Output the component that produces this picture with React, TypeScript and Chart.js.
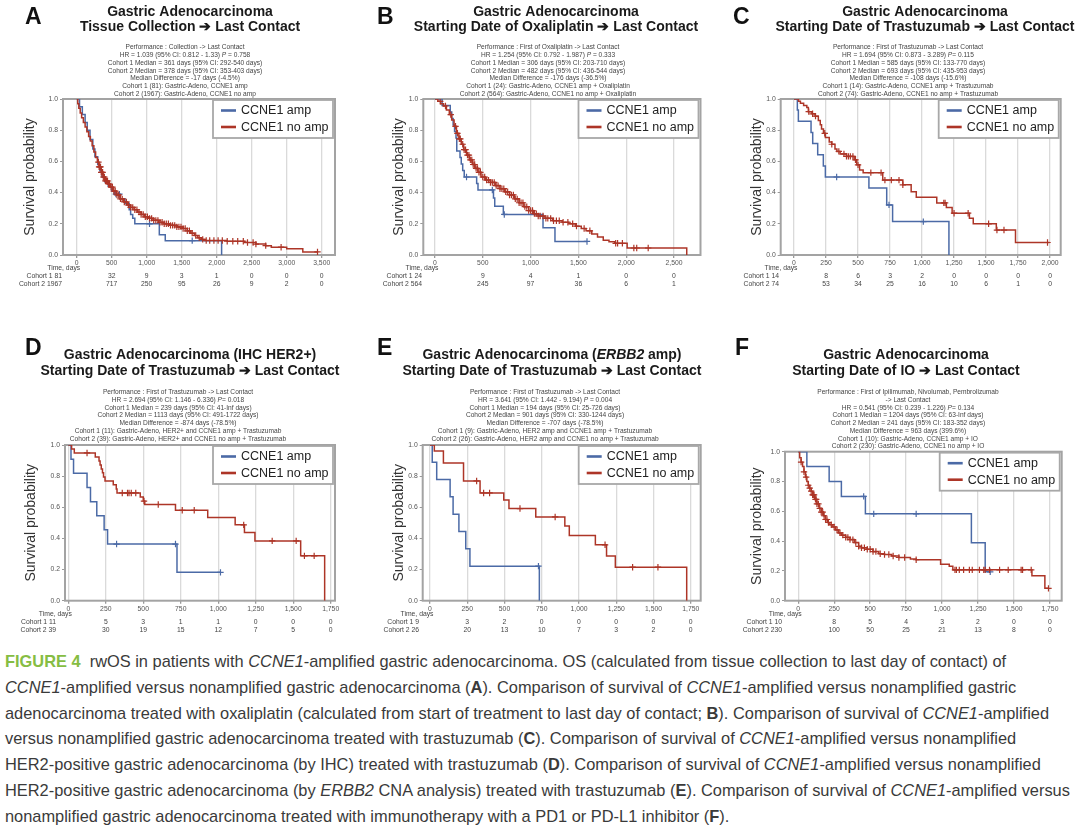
import React, { useEffect, useRef } from "react";
import { Chart, registerables } from "chart.js";
Chart.register(...registerables);

type Pt = [number, number];
const FONT = '"Liberation Sans", Arial, sans-serif';
const BLUE = "#4b6aa6";
const RED = "#ad3527";
const Y_TICKS = [0, 0.2, 0.4, 0.6, 0.8, 1.0];
const ARROW = "\u2794";

// ---------------- Panel A ----------------
const ticksA = [0, 500, 1000, 1500, 2000, 2500, 3000, 3500];
const ampA: Pt[] = [[0,1],[40,0.95],[80,0.9],[120,0.85],[150,0.8],[190,0.74],[230,0.68],[260,0.63],[300,0.58],[330,0.54],[361,0.5],[400,0.47],[450,0.44],[500,0.41],[540,0.39],[620,0.36],[690,0.33],[750,0.29],[770,0.26],[800,0.235],[830,0.2],[1180,0.13],[1265,0.092],[2070,0]];
const ampCensorA = [560, 610, 1040, 1650];
const ampEndA = 2070;
const noampA: Pt[] = [[0,1],[15,0.97],[30,0.94],[50,0.91],[70,0.88],[95,0.85],[120,0.82],[145,0.79],[170,0.76],[195,0.73],[220,0.7],[245,0.66],[270,0.625],[295,0.595],[320,0.565],[350,0.53],[378,0.5],[410,0.475],[445,0.455],[480,0.435],[520,0.41],[570,0.385],[620,0.36],[670,0.34],[720,0.32],[770,0.305],[820,0.29],[870,0.275],[920,0.26],[970,0.245],[1020,0.235],[1090,0.222],[1170,0.21],[1250,0.2],[1330,0.19],[1430,0.18],[1520,0.17],[1580,0.155],[1630,0.14],[1680,0.125],[1730,0.11],[1780,0.1],[1830,0.093],[2150,0.088],[2400,0.08],[2560,0.07],[2700,0.06],[2780,0.05],[3000,0.04],[3230,0.02]];
const noampCensorA = [310,320,330,340,350,360,370,380,395,410,425,440,455,470,490,510,530,550,575,600,625,650,680,710,740,770,800,830,860,890,920,950,980,1010,1040,1070,1100,1130,1160,1190,1220,1250,1280,1310,1340,1370,1400,1430,1460,1490,1520,1550,1580,1610,1650,1700,1750,1800,1850,1900,1960,2020,2080,2150,2230,2300,2380,2440,2520,2560,2700,2920,3440];
const noampEndA = 3450;
const riskAmpA = [81, 32, 9, 3, 1, 0, 0, 0];
const riskNoampA = [1967, 717, 250, 95, 26, 9, 2, 0];
const titleA = ["Gastric Adenocarcinoma", `Tissue Collection ${ARROW} Last Contact`];
const statsA = [
  "Performance : Collection -> Last Contact",
  "HR = 1.039 (95% CI: 0.812 - 1.33) _P_ = 0.758",
  "Cohort 1 Median = 361 days (95% CI: 292-540 days)",
  "Cohort 2 Median = 378 days (95% CI: 353-403 days)",
  "Median Difference = -17 days (-4.5%)",
  "Cohort 1 (81): Gastric-Adeno, CCNE1 amp",
  "Cohort 2 (1967): Gastric-Adeno, CCNE1 no amp",
];

// ---------------- Panel B ----------------
const ticksB = [0, 500, 1000, 1500, 2000, 2500];
const ampB: Pt[] = [[0,1],[75,0.958],[160,0.917],[175,0.875],[190,0.833],[205,0.792],[220,0.75],[228,0.667],[262,0.625],[275,0.583],[290,0.542],[306,0.5],[436,0.458],[450,0.417],[612,0.365],[625,0.313],[715,0.26],[1130,0.174],[1255,0.087]];
const ampCensorB = [330, 600, 725, 1590];
const ampEndB = 1590;
const noampB: Pt[] = [[0,1],[30,0.985],[60,0.97],[90,0.955],[120,0.93],[150,0.9],[175,0.865],[200,0.825],[225,0.78],[250,0.745],[275,0.71],[300,0.675],[330,0.64],[360,0.61],[390,0.58],[420,0.555],[450,0.53],[482,0.5],[530,0.48],[580,0.465],[630,0.445],[680,0.425],[730,0.405],[780,0.385],[830,0.36],[880,0.335],[930,0.31],[980,0.285],[1030,0.265],[1080,0.25],[1150,0.235],[1230,0.22],[1330,0.21],[1400,0.2],[1470,0.185],[1530,0.17],[1580,0.155],[1640,0.135],[1700,0.115],[1760,0.095],[1820,0.085],[1880,0.075],[2010,0.045],[2633,0]];
const noampCensorB = [55,110,165,215,235,255,265,290,305,320,340,355,370,385,400,415,430,445,460,475,500,520,540,560,580,600,620,640,660,680,700,720,740,760,780,800,820,840,860,880,900,920,940,960,980,1000,1020,1040,1060,1080,1100,1130,1160,1180,1210,1240,1270,1300,1340,1390,1440,1480,1560,1620,1890,1910,1960,2080,2110,2230];
const noampEndB = 2633;
const riskAmpB = [24, 9, 4, 1, 0, 0];
const riskNoampB = [564, 245, 97, 36, 6, 1];
const titleB = ["Gastric Adenocarcinoma", `Starting Date of Oxaliplatin ${ARROW} Last Contact`];
const statsB = [
  "Performance : First of Oxaliplatin -> Last Contact",
  "HR = 1.254 (95% CI: 0.792 - 1.987) _P_ = 0.333",
  "Cohort 1 Median = 306 days (95% CI: 203-710 days)",
  "Cohort 2 Median = 482 days (95% CI: 436-544 days)",
  "Median Difference = -176 days (-36.5%)",
  "Cohort 1 (24): Gastric-Adeno, CCNE1 amp + Oxaliplatin",
  "Cohort 2 (564): Gastric-Adeno, CCNE1 no amp + Oxaliplatin",
];

// ---------------- Panel C ----------------
const ticksC = [0, 250, 500, 750, 1000, 1250, 1500, 1750, 2000];
const ampC: Pt[] = [[0,1],[26,0.929],[34,0.857],[133,0.786],[146,0.714],[185,0.643],[229,0.571],[245,0.5],[585,0.429],[724,0.321],[770,0.214],[1210,0]];
const ampCensorC = [333, 742, 1010];
const ampEndC = 1210;
const noampC: Pt[] = [[0,1],[35,0.986],[50,0.973],[75,0.959],[100,0.946],[112,0.919],[140,0.905],[165,0.89],[190,0.862],[205,0.835],[215,0.808],[230,0.78],[245,0.753],[275,0.725],[295,0.71],[320,0.68],[335,0.664],[360,0.648],[410,0.632],[470,0.61],[490,0.578],[512,0.545],[540,0.528],[693,0.48],[850,0.45],[915,0.405],[955,0.37],[1115,0.334],[1190,0.305],[1235,0.268],[1370,0.235],[1400,0.2],[1580,0.16],[1730,0.08]];
const noampCensorC = [115,145,168,240,295,350,390,410,425,440,460,480,500,600,680,710,760,820,850,1170,1180,1250,1360,1520,1585,1640,1980];
const noampEndC = 1995;
const riskAmpC = [14, 8, 6, 3, 2, 0, 0, 0, 0];
const riskNoampC = [74, 53, 34, 25, 16, 10, 6, 1, 0];
const titleC = ["Gastric Adenocarcinoma", `Starting Date of Trastuzumab ${ARROW} Last Contact`];
const statsC = [
  "Performance : First of Trastuzumab -> Last Contact",
  "HR = 1.694 (95% CI: 0.873 - 3.289) _P_= 0.115",
  "Cohort 1 Median = 585 days (95% CI: 133-770 days)",
  "Cohort 2 Median = 693 days (95% CI: 435-953 days)",
  "Median Difference = -108 days (-15.6%)",
  "Cohort 1 (14): Gastric-Adeno, CCNE1 amp + Trastuzumab",
  "Cohort 2 (74): Gastric-Adeno, CCNE1 no amp + Trastuzumab",
];

// ---------------- Panel D ----------------
const ticksD = [0, 250, 500, 750, 1000, 1250, 1500, 1750];
const ampD: Pt[] = [[0,1],[18,0.909],[35,0.818],[125,0.727],[148,0.636],[190,0.545],[239,0.455],[262,0.364],[725,0.182]];
const ampCensorD = [322, 715, 1015];
const ampEndD = 1015;
const noampD: Pt[] = [[0,1],[22,0.974],[40,0.949],[180,0.923],[205,0.897],[212,0.872],[220,0.846],[228,0.821],[235,0.795],[245,0.769],[300,0.744],[320,0.718],[325,0.692],[480,0.666],[500,0.64],[510,0.618],[715,0.581],[930,0.535],[1113,0.487],[1175,0.438],[1245,0.384],[1550,0.288],[1710,0]];
const noampCensorD = [125,360,395,405,420,450,505,600,760,840,1170,1360,1520,1575,1640];
const noampEndD = 1710;
const riskAmpD = [11, 5, 3, 1, 1, 0, 0, 0];
const riskNoampD = [39, 30, 19, 15, 12, 7, 5, 0];
const titleD = ["Gastric Adenocarcinoma (IHC HER2+)", `Starting Date of Trastuzumab ${ARROW} Last Contact`];
const statsD = [
  "Performance : First of Trastuzumab -> Last Contact",
  "HR = 2.694 (95% CI: 1.146 - 6.336) _P_= 0.018",
  "Cohort 1 Median = 239 days (95% CI: 41-Inf days)",
  "Cohort 2 Median = 1113 days (95% CI: 491-1722 days)",
  "Median Difference = -874 days (-78.5%)",
  "Cohort 1 (11): Gastric-Adeno, HER2+ and CCNE1 amp + Trastuzumab",
  "Cohort 2 (39): Gastric-Adeno, HER2+ and CCNE1 no amp + Trastuzumab",
];

// ---------------- Panel E ----------------
const ticksE = [0, 250, 500, 750, 1000, 1250, 1500, 1750];
const ampE: Pt[] = [[0,1],[15,0.889],[45,0.778],[135,0.667],[155,0.556],[194,0.444],[240,0.333],[268,0.222],[734,0]];
const ampCensorE = [728];
const ampEndE = 734;
const noampE: Pt[] = [[0,1],[29,0.962],[90,0.885],[225,0.769],[336,0.692],[495,0.646],[530,0.592],[710,0.538],[905,0.479],[935,0.419],[1110,0.359],[1185,0.287],[1244,0.215],[1723,0]];
const noampCensorE = [313, 360, 400, 604, 840, 1175, 1360, 1530];
const noampEndE = 1723;
const riskAmpE = [9, 3, 2, 0, 0, 0, 0, 0];
const riskNoampE = [26, 20, 13, 10, 7, 3, 2, 0];
const titleE = ["Gastric Adenocarcinoma (_ERBB2_ amp)", `Starting Date of Trastuzumab ${ARROW} Last Contact`];
const statsE = [
  "Performance : First of Trastuzumab -> Last Contact",
  "HR = 3.641 (95% CI: 1.442 - 9.194) _P_ = 0.004",
  "Cohort 1 Median = 194 days (95% CI: 25-726 days)",
  "Cohort 2 Median = 901 days (95% CI: 330-1244 days)",
  "Median Difference = -707 days (-78.5%)",
  "Cohort 1 (9): Gastric-Adeno, HER2 amp and CCNE1 amp + Trastuzumab",
  "Cohort 2 (26): Gastric-Adeno, HER2 amp and CCNE1 no amp + Trastuzumab",
];

// ---------------- Panel F ----------------
const ticksF = [0, 250, 500, 750, 1000, 1250, 1500, 1750];
const ampF: Pt[] = [[0,1],[60,0.9],[215,0.8],[300,0.7],[467,0.583],[1204,0.389],[1300,0.194]];
const ampCensorF = [455, 525, 820, 1335];
const ampEndF = 1335;
const noampF: Pt[] = [[0,1],[10,0.96],[20,0.93],[30,0.9],[40,0.865],[50,0.83],[60,0.8],[70,0.775],[80,0.755],[90,0.735],[100,0.71],[115,0.68],[130,0.65],[145,0.62],[160,0.595],[175,0.57],[190,0.545],[205,0.525],[220,0.51],[241,0.495],[260,0.475],[280,0.455],[300,0.44],[330,0.425],[360,0.41],[390,0.39],[420,0.365],[440,0.355],[480,0.345],[520,0.33],[560,0.315],[600,0.31],[650,0.3],[700,0.29],[780,0.28],[820,0.275],[990,0.245],[1050,0.232],[1075,0.207],[1625,0.167],[1715,0.083]];
const noampCensorF = [20,40,55,70,80,90,100,105,110,120,125,130,140,150,160,170,180,190,200,210,230,250,270,290,310,330,345,360,380,400,420,440,460,480,500,520,540,570,600,630,660,700,740,820,1090,1100,1120,1150,1190,1210,1260,1290,1300,1330,1400,1460,1550,1560,1620,1740];
const noampEndF = 1740;
const riskAmpF = [10, 8, 5, 4, 3, 2, 0, 0];
const riskNoampF = [230, 100, 50, 25, 21, 13, 8, 0];
const titleF = ["Gastric Adenocarcinoma", `Starting Date of IO ${ARROW} Last Contact`];
const statsF = [
  "Performance : First of Ipilimumab, Nivolumab, Pembrolizumab",
  "-> Last Contact",
  "HR = 0.541 (95% CI: 0.239 - 1.226) _P_= 0.134",
  "Cohort 1 Median = 1204 days (95% CI: 63-Inf days)",
  "Cohort 2 Median = 241 days (95% CI: 183-352 days)",
  "Median Difference = 963 days (399.6%)",
  "Cohort 1 (10): Gastric-Adeno, CCNE1 amp + IO",
  "Cohort 2 (230): Gastric-Adeno, CCNE1 no amp + IO",
];

const legendLabels = ["CCNE1 amp", "CCNE1 no amp"];

const CAPTION = [
  "\u00a7FIGURE 4\u00a7  rwOS in patients with *CCNE1*-amplified gastric adenocarcinoma. OS (calculated from tissue collection to last day of contact) of",
  "*CCNE1*-amplified versus nonamplified gastric adenocarcinoma (#A#). Comparison of survival of *CCNE1*-amplified versus nonamplified gastric",
  "adenocarcinoma treated with oxaliplatin (calculated from start of treatment to last day of contact; #B#). Comparison of survival of *CCNE1*-amplified",
  "versus nonamplified gastric adenocarcinoma treated with trastuzumab (#C#). Comparison of survival of *CCNE1*-amplified versus nonamplified",
  "HER2-positive gastric adenocarcinoma (by IHC) treated with trastuzumab (#D#). Comparison of survival of *CCNE1*-amplified versus nonamplified",
  "HER2-positive gastric adenocarcinoma (by *ERBB2* CNA analysis) treated with trastuzumab (#E#). Comparison of survival of *CCNE1*-amplified versus",
  "nonamplified gastric adenocarcinoma treated with immunotherapy with a PD1 or PD-L1 inhibitor (#F#).",
];

// ---------------- layout ----------------
interface PanelCfg {
  letter: string; left: number; top: number; w: number; h: number;
  plot: { l: number; r: number; t: number; b: number };
  xMin: number; xMax: number; ticks: number[];
  title: string[]; titleX: number; titleY: number[];
  stats: string[]; statsX: number; statsY0: number; statsDy: number;
  yTitleX: number; labelRight: number; letterX: number; letterY: number;
  amp: Pt[]; ampCensor: number[]; ampEnd: number;
  noamp: Pt[]; noampCensor: number[]; noampEnd: number;
  riskAmp: number[]; riskNoamp: number[];
}

const TOP = { top: 0, h: 325, t: 99, b: 255, titleY: [12, 27], statsY0: 47.5, statsDy: 7.75, letterY: 24 };
const BOT = { top: 330, h: 312, b: 600.7, titleY: [355, 371.5], statsY0: 392.5, statsDy: 7.7, letterY: 355 };

const PANELS: PanelCfg[] = [
  { letter: "A", left: 0, top: TOP.top, w: 360, h: TOP.h, plot: { l: 63, r: 335, t: TOP.t, b: TOP.b }, xMin: -196, xMax: 3690, ticks: ticksA,
    title: titleA, titleX: 190, titleY: TOP.titleY, stats: statsA, statsX: 185, statsY0: TOP.statsY0, statsDy: TOP.statsDy,
    yTitleX: 30, labelRight: 62, letterX: 25, letterY: TOP.letterY,
    amp: ampA, ampCensor: ampCensorA, ampEnd: ampEndA, noamp: noampA, noampCensor: noampCensorA, noampEnd: noampEndA, riskAmp: riskAmpA, riskNoamp: riskNoampA },
  { letter: "B", left: 360, top: TOP.top, w: 360, h: TOP.h, plot: { l: 423.3, r: 700.5, t: TOP.t, b: TOP.b }, xMin: -122, xMax: 2777, ticks: ticksB,
    title: titleB, titleX: 556, titleY: TOP.titleY, stats: statsB, statsX: 548, statsY0: TOP.statsY0, statsDy: TOP.statsDy,
    yTitleX: 399, labelRight: 422, letterX: 377, letterY: TOP.letterY,
    amp: ampB, ampCensor: ampCensorB, ampEnd: ampEndB, noamp: noampB, noampCensor: noampCensorB, noampEnd: noampEndB, riskAmp: riskAmpB, riskNoamp: riskNoampB },
  { letter: "C", left: 720, top: TOP.top, w: 360, h: TOP.h, plot: { l: 780.7, r: 1060.7, t: TOP.t, b: TOP.b }, xMin: -104, xMax: 2083, ticks: ticksC,
    title: titleC, titleX: 925, titleY: TOP.titleY, stats: statsC, statsX: 908, statsY0: TOP.statsY0, statsDy: TOP.statsDy,
    yTitleX: 757, labelRight: 779, letterX: 733, letterY: TOP.letterY,
    amp: ampC, ampCensor: ampCensorC, ampEnd: ampEndC, noamp: noampC, noampCensor: noampCensorC, noampEnd: noampEndC, riskAmp: riskAmpC, riskNoamp: riskNoampC },
  { letter: "D", left: 0, top: BOT.top, w: 360, h: BOT.h, plot: { l: 65, r: 335, t: 445, b: BOT.b }, xMin: -22, xMax: 1779, ticks: ticksD,
    title: titleD, titleX: 190, titleY: BOT.titleY, stats: statsD, statsX: 178, statsY0: BOT.statsY0, statsDy: BOT.statsDy,
    yTitleX: 31, labelRight: 56, letterX: 25, letterY: BOT.letterY,
    amp: ampD, ampCensor: ampCensorD, ampEnd: ampEndD, noamp: noampD, noampCensor: noampCensorD, noampEnd: noampEndD, riskAmp: riskAmpD, riskNoamp: riskNoampD },
  { letter: "E", left: 360, top: BOT.top, w: 360, h: BOT.h, plot: { l: 422.7, r: 700.7, t: 445, b: BOT.b }, xMin: -49, xMax: 1817, ticks: ticksE,
    title: titleE, titleX: 552, titleY: BOT.titleY, stats: statsE, statsX: 545, statsY0: BOT.statsY0, statsDy: BOT.statsDy,
    yTitleX: 399, labelRight: 419, letterX: 377, letterY: BOT.letterY,
    amp: ampE, ampCensor: ampCensorE, ampEnd: ampEndE, noamp: noampE, noampCensor: noampCensorE, noampEnd: noampEndE, riskAmp: riskAmpE, riskNoamp: riskNoampE },
  { letter: "F", left: 720, top: BOT.top, w: 360, h: BOT.h, plot: { l: 785, r: 1061.7, t: 451.7, b: BOT.b }, xMin: -92, xMax: 1832, ticks: ticksF,
    title: titleF, titleX: 906, titleY: BOT.titleY, stats: statsF, statsX: 908, statsY0: BOT.statsY0, statsDy: BOT.statsDy,
    yTitleX: 757, labelRight: 782, letterX: 735, letterY: BOT.letterY,
    amp: ampF, ampCensor: ampCensorF, ampEnd: ampEndF, noamp: noampF, noampCensor: noampCensorF, noampEnd: noampEndF, riskAmp: riskAmpF, riskNoamp: riskNoampF },
];

const YW = 22;
const XH = 14;

function survAt(pts: Pt[], t: number): number {
  let s = pts[0][1];
  for (const p of pts) {
    if (p[0] <= t) s = p[1];
    else break;
  }
  return s;
}

function stepData(pts: Pt[], end: number) {
  const d = pts.map(([x, y]) => ({ x, y }));
  const last = pts[pts.length - 1];
  if (end > last[0]) d.push({ x: end, y: last[1] });
  return d;
}

function censorData(pts: Pt[], times: number[]) {
  return times.map((t) => ({ x: t, y: survAt(pts, t) }));
}

function drawRich(ctx: CanvasRenderingContext2D, text: string, cx: number, y: number, size: number, weight: string, color: string) {
  const parts = text.split("_");
  const fonts = parts.map((_, i) => `${i % 2 ? "italic " : ""}${weight} ${size}px ${FONT}`);
  const widths = parts.map((p, i) => {
    ctx.font = fonts[i];
    return ctx.measureText(p).width;
  });
  const total = widths.reduce((a, b) => a + b, 0);
  let x = cx - total / 2;
  ctx.fillStyle = color;
  ctx.textAlign = "left";
  ctx.textBaseline = "middle";
  parts.forEach((p, i) => {
    ctx.font = fonts[i];
    ctx.fillText(p, x, y);
    x += widths[i];
  });
}

function panelPlugin(p: PanelCfg) {
  return {
    id: "panel" + p.letter,
    beforeDatasetsDraw(chart: any) {
      const { ctx, chartArea: ca } = chart;
      ctx.save();
      ctx.strokeStyle = "#a3a3a3";
      ctx.lineWidth = 2;
      ctx.strokeRect(ca.left, ca.top, ca.right - ca.left, ca.bottom - ca.top);
      ctx.restore();
    },
    afterDraw(chart: any) {
      const { ctx, chartArea: ca } = chart;
      const xs = chart.scales.x;
      const ox = p.left, oy = p.top;
      ctx.save();
      // legend
      const bw = 120, bh = 38;
      const bx = ca.right - 2 - bw, by = ca.top + 1;
      ctx.fillStyle = "#ffffff";
      ctx.fillRect(bx, by, bw, bh);
      ctx.strokeStyle = "#a8a8a8";
      ctx.lineWidth = 1.8;
      ctx.strokeRect(bx, by, bw, bh);
      [BLUE, RED].forEach((c, i) => {
        const ly = by + 10.5 + i * 16.5;
        ctx.strokeStyle = c;
        ctx.lineWidth = 2.6;
        ctx.beginPath();
        ctx.moveTo(bx + 8, ly);
        ctx.lineTo(bx + 23, ly);
        ctx.stroke();
        ctx.fillStyle = "#222";
        ctx.font = `12.5px ${FONT}`;
        ctx.textAlign = "left";
        ctx.textBaseline = "middle";
        ctx.fillText(legendLabels[i], bx + 28, ly + 0.5);
      });
      // y title
      ctx.save();
      ctx.translate(p.yTitleX - ox, (ca.top + ca.bottom) / 2);
      ctx.rotate(-Math.PI / 2);
      ctx.fillStyle = "#333";
      ctx.font = `14px ${FONT}`;
      ctx.textAlign = "center";
      ctx.textBaseline = "middle";
      ctx.fillText("Survival probability", 0, 0);
      ctx.restore();
      // letter
      ctx.fillStyle = "#111";
      ctx.font = `bold 23px ${FONT}`;
      ctx.textAlign = "left";
      ctx.textBaseline = "alphabetic";
      ctx.fillText(p.letter, p.letterX - ox, p.letterY - oy);
      // title
      p.title.forEach((t, i) => drawRich(ctx, t, p.titleX - ox, p.titleY[i] - oy, 14, "bold", "#1a1a1a"));
      // stats
      p.stats.forEach((t, i) => drawRich(ctx, t, p.statsX - ox, p.statsY0 + i * p.statsDy - oy, 6.6, "normal", "#444"));
      // risk table
      ctx.font = `6.8px ${FONT}`;
      ctx.fillStyle = "#444";
      ctx.textBaseline = "middle";
      const x0 = xs.getPixelForValue(0);
      ctx.textAlign = "right";
      ctx.fillText("Time, days", x0 + 3.5, ca.bottom + 13);
      ctx.fillText("Cohort 1 " + p.riskAmp[0], p.labelRight - ox, ca.bottom + 21.5);
      ctx.fillText("Cohort 2 " + p.riskNoamp[0], p.labelRight - ox, ca.bottom + 29);
      ctx.textAlign = "center";
      p.ticks.forEach((t, i) => {
        if (i === 0) return;
        const x = xs.getPixelForValue(t);
        ctx.fillText(String(p.riskAmp[i]), x, ca.bottom + 21.5);
        ctx.fillText(String(p.riskNoamp[i]), x, ca.bottom + 29);
      });
      ctx.restore();
    },
  };
}

function makeConfig(p: PanelCfg): any {
  const L = p.plot.l - p.left;
  const T = p.plot.t - p.top;
  const R = p.left + p.w - p.plot.r;
  const B = p.top + p.h - p.plot.b - XH;
  const tickFont = { size: 6.8, family: FONT };
  return {
    type: "line",
    data: {
      datasets: [
        { data: stepData(p.noamp, p.noampEnd), borderColor: RED, borderWidth: 1.5, stepped: "before", pointRadius: 0, fill: false, order: 1 },
        { data: censorData(p.noamp, p.noampCensor), borderColor: RED, showLine: false, pointStyle: "cross", pointRadius: 3.2, pointBorderWidth: 1.2, order: 0 },
        { data: stepData(p.amp, p.ampEnd), borderColor: BLUE, borderWidth: 1.5, stepped: "before", pointRadius: 0, fill: false, order: 3 },
        { data: censorData(p.amp, p.ampCensor), borderColor: BLUE, showLine: false, pointStyle: "cross", pointRadius: 3.2, pointBorderWidth: 1.2, order: 2 },
      ],
    },
    options: {
      responsive: false,
      animation: false,
      events: [],
      layout: { padding: { left: L - YW, top: T, right: R, bottom: B } },
      plugins: { legend: { display: false }, tooltip: { enabled: false }, title: { display: false } },
      scales: {
        x: {
          type: "linear",
          min: p.xMin,
          max: p.xMax,
          afterBuildTicks: (s: any) => { s.ticks = p.ticks.map((v) => ({ value: v })); },
          afterFit: (s: any) => { s.height = XH; },
          ticks: { font: tickFont, color: "#555", padding: 1, maxRotation: 0, autoSkip: false, callback: (v: any) => Number(v).toLocaleString("en-US") },
          grid: { color: "#dadada", lineWidth: 1.3, tickLength: 3, tickColor: "#999" },
          border: { display: false },
        },
        y: {
          type: "linear",
          min: 0,
          max: 1,
          afterBuildTicks: (s: any) => { s.ticks = Y_TICKS.map((v) => ({ value: v })); },
          afterFit: (s: any) => { s.width = YW; },
          ticks: { font: tickFont, color: "#555", padding: 2, callback: (v: any) => Number(v).toFixed(1) },
          grid: { drawOnChartArea: false, tickLength: 3, tickColor: "#999" },
          border: { display: false },
        },
      },
    },
    plugins: [panelPlugin(p)],
  };
}

function Panel({ cfg }: { cfg: PanelCfg }) {
  const ref = useRef<HTMLCanvasElement>(null);
  useEffect(() => {
    const chart = new Chart(ref.current as HTMLCanvasElement, makeConfig(cfg));
    return () => chart.destroy();
  }, [cfg]);
  return (
    <canvas
      ref={ref}
      width={cfg.w}
      height={cfg.h}
      style={{ position: "absolute", left: cfg.left, top: cfg.top, width: cfg.w, height: cfg.h }}
    />
  );
}

function CaptionLine({ text }: { text: string }) {
  const parts = text.split(/(\*[^*]+\*|#[^#]+#|\u00a7[^\u00a7]+\u00a7)/).filter((s) => s.length > 0);
  return (
    <div style={{ whiteSpace: "pre", height: 25.8, lineHeight: "25.8px" }}>
      {parts.map((s, i) => {
        if (s.startsWith("*")) return <i key={i}>{s.slice(1, -1)}</i>;
        if (s.startsWith("#")) return <b key={i}>{s.slice(1, -1)}</b>;
        if (s.startsWith("\u00a7")) return <b key={i} style={{ color: "#86bd43" }}>{s.slice(1, -1)}</b>;
        return <span key={i}>{s}</span>;
      })}
    </div>
  );
}

export default function App() {
  return (
    <div style={{ position: "fixed", left: 0, top: 0, width: 1080, height: 827, background: "#fff", overflow: "hidden" }}>
      {PANELS.map((p) => (
        <Panel key={p.letter} cfg={p} />
      ))}
      <div style={{ position: "absolute", left: 5, top: 649, fontFamily: FONT, fontSize: 16.4, color: "#3a3a3a" }}>
        {CAPTION.map((t, i) => (
          <CaptionLine key={i} text={t} />
        ))}
      </div>
    </div>
  );
}
